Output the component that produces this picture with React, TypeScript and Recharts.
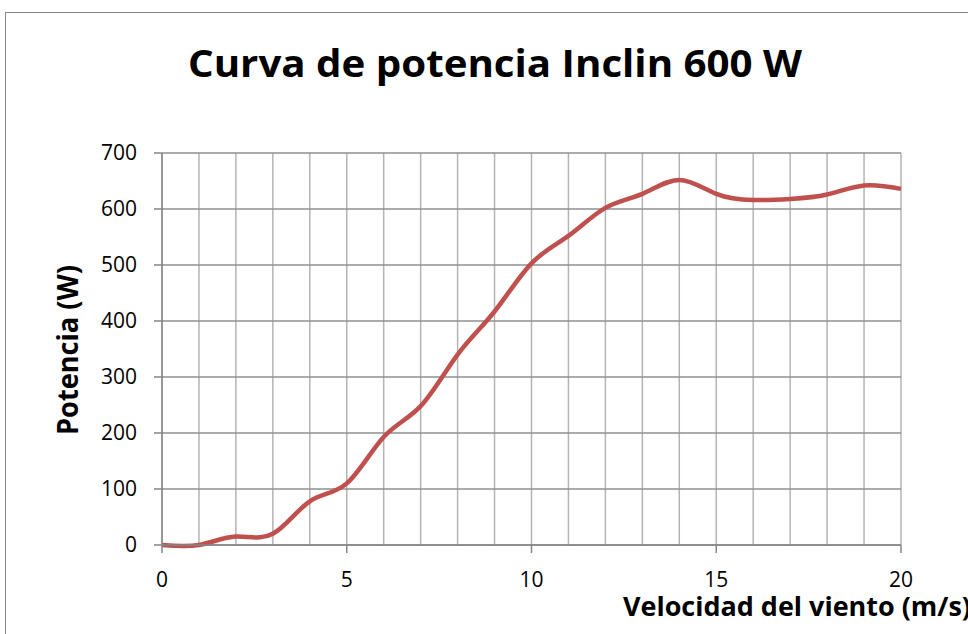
import { LineChart, Line, XAxis, YAxis, CartesianGrid } from 'recharts';

const windSpeed = [0, 1, 2, 3, 4, 5, 6, 7, 8, 9, 10, 11, 12, 13, 14, 15, 16, 17, 18, 19, 20];
const power = [0, 0, 15, 20, 78, 110, 193, 248, 340, 417, 503, 552, 602, 627, 652, 627, 616, 618, 626, 642, 636];
const yTicks = [0, 100, 200, 300, 400, 500, 600, 700];
const xLabels = [0, 5, 10, 15, 20];

const data = windSpeed.map((s, i) => ({ speed: s, power: power[i] }));

const FONT = '"Open Sans", sans-serif';
const AXIS = '#868686';

// minor x ticks only carry a grid line, labels and tick marks on every 5 m/s
function XTick(props: any) {
  const { x, y, payload } = props;
  if (!xLabels.includes(payload.value)) return null;
  return (
    <g>
      <line x1={x} x2={x} y1={y} y2={y + 8} stroke={AXIS} strokeWidth={1.5} />
      <text x={x} y={y + 42} textAnchor="middle" fill="#000" fontSize={21} fontFamily={FONT}>
        {payload.value}
      </text>
    </g>
  );
}

export default function App() {
  return (
    <div style={{ position: 'absolute', left: 0, top: 0, width: 968, height: 634, overflow: 'hidden', background: '#fff' }}>
      {/* chart frame, runs off the right and bottom edges */}
      <div style={{ position: 'absolute', left: 5, top: 12, width: 1100, height: 700, border: `1px solid ${AXIS}` }} />

      <div style={{ position: 'absolute', left: 0, top: 0 }}>
        <LineChart width={968} height={634} data={data} margin={{ top: 153, right: 67, bottom: 0, left: 0 }}>
          <CartesianGrid horizontal={false} vertical={true} stroke="#b4b4b4" strokeWidth={1.5} />
          <CartesianGrid horizontal={true} vertical={false} stroke="#8f8f8f" strokeWidth={1.5} />
          <XAxis
            dataKey="speed"
            type="number"
            domain={[0, 20]}
            ticks={windSpeed}
            interval={0}
            height={89}
            tickSize={0}
            tickMargin={0}
            tickLine={false}
            axisLine={{ stroke: AXIS, strokeWidth: 1.5 }}
            tick={<XTick />}
          />
          <YAxis
            type="number"
            domain={[0, 700]}
            ticks={yTicks}
            width={162}
            tickSize={8}
            tickMargin={17}
            tickLine={{ stroke: AXIS, strokeWidth: 1.5 }}
            axisLine={{ stroke: AXIS, strokeWidth: 1.5 }}
            tick={{ fill: '#000', fontSize: 21, fontFamily: FONT }}
          />
          <Line
            type="natural"
            dataKey="power"
            stroke="#C0504D"
            strokeWidth={4.5}
            dot={false}
            isAnimationActive={false}
          />
        </LineChart>
      </div>

      <svg width={968} height={634} style={{ position: 'absolute', left: 0, top: 0, pointerEvents: 'none' }}>
        <text x={188} y={77} fontSize={38} fontWeight="bold" fontFamily={FONT} fill="#000" textLength={614} lengthAdjust="spacingAndGlyphs">
          Curva de potencia Inclin 600 W
        </text>
        <text
          x={0}
          y={0}
          transform="translate(78,350) rotate(-90)"
          textAnchor="middle"
          fontSize={28}
          fontWeight="bold"
          fontFamily={FONT}
          fill="#000"
          textLength={170}
          lengthAdjust="spacingAndGlyphs"
        >
          Potencia (W)
        </text>
        <text x={623} y={616} fontSize={27} fontWeight="bold" fontFamily={FONT} fill="#000" textLength={348} lengthAdjust="spacingAndGlyphs">
          Velocidad del viento (m/s)
        </text>
      </svg>
    </div>
  );
}
